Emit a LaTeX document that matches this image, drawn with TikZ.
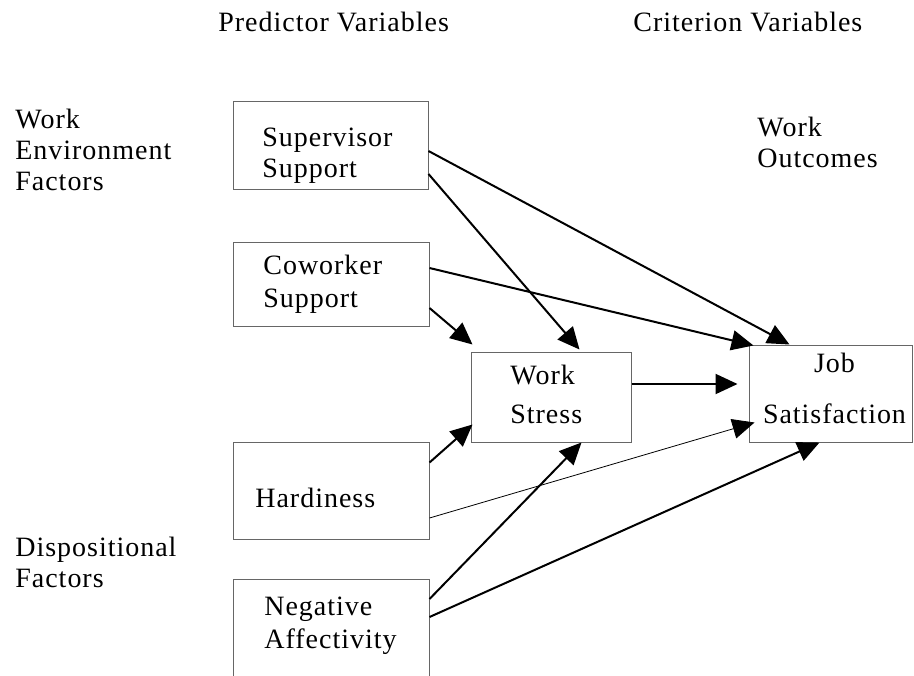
\documentclass[tikz,border=0pt]{standalone}
\usepackage{fontspec}
\setmainfont{Liberation Serif}[LetterSpace=3.5]
\usepackage{tikz}
\usetikzlibrary{arrows.meta,
	calc}

\begin{document}
\begin{tikzpicture}[x=0.5pt,y=-0.5pt,
        box/.style={draw=black!60,line width=0.5pt,inner sep=0pt},
        lbl/.style={anchor=base west,align=left,inner sep=0pt,font=\fontsize{14}{15.5}\selectfont},
        arr/.style={-{Triangle[length=11pt,width=10pt]},line width=1pt},
        thinarr/.style={-{Triangle[length=11pt,width=10pt]},line width=0.4pt}]
        \clip (0,0) rectangle (914,675);

        %headings
        \node[lbl] (pred) at(218,31) {Predictor Variables};
        \node[lbl] (crit) at(633,31) {Criterion Variables};
        \node[lbl] (env) at(15,190) {Work\\Environment\\Factors};
        \node[lbl] (outc) at(757,167) {Work\\Outcomes};
        \node[lbl] (disp) at(15,587) {Dispositional\\Factors};

        %supervisor
        \node[box,minimum width=97.5pt,minimum height=44pt] (sup) at(330.5,145) {};
        \node[lbl] (supt) at(262,177) {Supervisor\\Support};

        %coworker
        \node[box,minimum width=98pt,minimum height=42pt] (cow) at(331,284) {};
        \node[lbl] (cowt) at(263,307) {Coworker\\[1pt]Support};

        %work stress
        \node[box,minimum width=80pt,minimum height=45pt] (ws) at(551,397) {};
        \node[lbl] (wst) at(510,423) {Work\\[4pt]Stress};

        %job satisfaction
        \node[box,minimum width=81.5pt,minimum height=48.5pt] (js) at(830.5,393.5) {};
        \node[lbl,anchor=base,align=center] (jst) at(834.5,423) {Job\\[10pt]Satisfaction};

        %hardiness
        \node[box,minimum width=98pt,minimum height=48.5pt] (hard) at(331,490.5) {};
        \node[lbl] (hardt) at(255,507) {Hardiness};

        %negative affectivity
        \node[box,minimum width=98pt,minimum height=60.5pt] (neg) at(331,639.5) {};
        \node[lbl] (negt) at(264,648) {Negative\\[1pt]Affectivity};

        \draw [arr] ($(sup.east)+(0,6)$) -- ($(js.north west)+(41,0)$);
        \draw [arr] ($(sup.east)+(0,29)$) -- ($(ws.north west)+(109,-2)$);
        \draw [arr] ($(cow.east)+(0,-16)$) -- ($(js.north west)+(5,1)$);
        \draw [arr] ($(cow.east)+(0,24)$) -- ($(ws.north west)+(2,-7)$);
        \draw [arr] ($(ws.east)+(0,-13)$) -- ($(js.west)+(-11,-9.5)$);
        \draw [arr] ($(hard.east)+(0,-28)$) -- ($(ws.south west)+(2,-18)$);
        \draw [thinarr] ($(hard.east)+(0,27.5)$) -- ($(js.south west)+(6,-20)$);
        \draw [arr] ($(neg.east)+(0,-40.5)$) -- ($(ws.south west)+(111,0)$);
        \draw [arr] ($(neg.east)+(0,-22.5)$) -- ($(js.south west)+(71,0)$);

\end{tikzpicture}
\end{document}
